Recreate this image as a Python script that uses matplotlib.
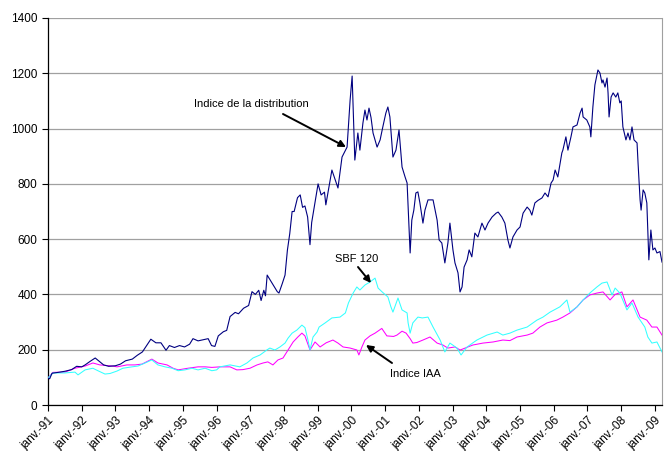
import matplotlib
matplotlib.use("Agg")
import matplotlib.pyplot as plt

plt.rcParams['font.family'] = ['Liberation Sans', 'DejaVu Sans']

# Indice de la distribution (dark blue)
dist_t = [1991.0, 1991.05, 1991.12, 1991.3, 1991.5, 1991.7, 1991.85, 1992.0, 1992.1, 1992.25,
          1992.4, 1992.5, 1992.65, 1992.8, 1993.0, 1993.15, 1993.3, 1993.5, 1993.65, 1993.8,
          1993.95, 1994.05, 1994.2, 1994.35, 1994.5, 1994.6, 1994.75, 1994.9, 1995.05, 1995.2,
          1995.3, 1995.45, 1995.6, 1995.75, 1995.85, 1995.95, 1996.05, 1996.2, 1996.3, 1996.4,
          1996.55, 1996.65, 1996.8, 1996.95, 1997.05, 1997.15, 1997.25, 1997.32, 1997.4, 1997.45,
          1997.5, 1997.6, 1997.7, 1997.8, 1997.85, 1997.95, 1998.03, 1998.1, 1998.17, 1998.24,
          1998.3, 1998.4, 1998.48, 1998.55, 1998.62, 1998.7, 1998.77, 1998.82, 1998.9, 1999.01,
          1999.1, 1999.2, 1999.24, 1999.35, 1999.42, 1999.6, 1999.72, 1999.87, 1999.96, 2000.02,
          2000.05, 2000.1, 2000.19, 2000.25, 2000.34, 2000.4, 2000.46, 2000.52, 2000.58, 2000.64,
          2000.76, 2000.85, 2000.93, 2001.02, 2001.08, 2001.14, 2001.23, 2001.32, 2001.41, 2001.5,
          2001.59, 2001.65, 2001.68, 2001.74, 2001.79, 2001.85, 2001.91, 2001.97, 2002.03, 2002.12,
          2002.18, 2002.27, 2002.42, 2002.54, 2002.6, 2002.68, 2002.77, 2002.86, 2002.92, 2003.01,
          2003.07, 2003.16, 2003.22, 2003.28, 2003.34, 2003.43, 2003.49, 2003.57, 2003.66, 2003.75,
          2003.87, 2003.96, 2004.05, 2004.17, 2004.29, 2004.35, 2004.46, 2004.55, 2004.64, 2004.7,
          2004.79, 2004.91, 2005.0, 2005.09, 2005.21, 2005.29, 2005.35, 2005.44, 2005.53, 2005.65,
          2005.74, 2005.83, 2005.92, 2005.98, 2006.04, 2006.12, 2006.24, 2006.27, 2006.36, 2006.42,
          2006.51, 2006.57, 2006.69, 2006.78, 2006.84, 2006.87, 2006.98, 2007.07, 2007.1, 2007.16,
          2007.22, 2007.28, 2007.31, 2007.37, 2007.43, 2007.46, 2007.52, 2007.58, 2007.61, 2007.64,
          2007.7, 2007.76, 2007.84, 2007.9, 2007.96, 2008.0, 2008.05, 2008.14, 2008.2, 2008.26,
          2008.32, 2008.38, 2008.47, 2008.5, 2008.56, 2008.59, 2008.65, 2008.7, 2008.76, 2008.79,
          2008.82, 2008.88, 2008.94, 2009.0, 2009.06, 2009.15, 2009.21]
dist_v = [97, 95, 115, 118, 122, 128, 140, 138, 145, 158,
          170, 160, 145, 140, 142, 148, 160, 166, 180, 192,
          220, 238, 225, 225, 198, 215, 208, 215, 210, 220,
          240, 232, 236, 240, 215, 212, 250, 265, 270, 320,
          335, 330, 350, 360, 410, 400, 415, 378, 415, 395,
          470, 450, 430, 410, 405, 440, 470, 560, 620, 700,
          700, 750, 760, 715, 720, 680, 580, 660, 720, 800,
          760, 770, 724, 800, 850, 785, 897, 933, 1103, 1190,
          1078, 886, 984, 922, 1020, 1067, 1031, 1074, 1040, 984,
          933, 959, 1006, 1056, 1078, 1042, 897, 922, 995, 861,
          825, 803, 716, 550, 669, 705, 767, 771, 731, 658,
          705, 742, 742, 669, 597, 586, 514, 586, 658, 561,
          514, 478, 409, 427, 499, 525, 561, 536, 622, 608,
          658, 633, 658, 680, 694, 698, 680, 658, 597, 568,
          608, 633, 644, 694, 716, 705, 687, 731, 740, 749,
          767, 753, 803, 814, 850, 825, 912, 922, 970, 922,
          970, 1006, 1013, 1056, 1074, 1042, 1031, 1006, 970, 1078,
          1158, 1194, 1212, 1201, 1165, 1176, 1150, 1183, 1129, 1042,
          1114, 1129, 1114, 1129, 1093, 1100, 1006, 959, 984, 959,
          1006, 959, 948, 875, 742, 705, 778, 767, 731, 633,
          525, 633, 561, 568, 550, 555, 517]

# SBF 120 (cyan)
sbf_t = [1991.0, 1991.15, 1991.5, 1991.8, 1991.89, 1992.1, 1992.33, 1992.48, 1992.69, 1992.84,
         1993.05, 1993.22, 1993.49, 1993.67, 1993.88, 1994.08, 1994.26, 1994.47, 1994.68, 1994.86,
         1995.06, 1995.27, 1995.45, 1995.66, 1995.86, 1996.0, 1996.1, 1996.4, 1996.69, 1996.9,
         1997.08, 1997.29, 1997.49, 1997.58, 1997.73, 1997.88, 1998.03, 1998.12, 1998.24, 1998.38,
         1998.53, 1998.62, 1998.71, 1998.77, 1998.86, 1998.98, 1999.04, 1999.22, 1999.42, 1999.66,
         1999.82, 1999.91, 2000.05, 2000.16, 2000.25, 2000.4, 2000.55, 2000.7, 2000.79, 2000.91,
         2001.08, 2001.17, 2001.23, 2001.38, 2001.5, 2001.65, 2001.68, 2001.74, 2001.82, 2001.97,
         2002.1, 2002.27, 2002.42, 2002.63, 2002.77, 2002.92, 2003.13, 2003.25, 2003.43, 2003.72,
         2004.02, 2004.32, 2004.49, 2004.7, 2004.91, 2005.21, 2005.5, 2005.68, 2005.89, 2006.18,
         2006.39, 2006.48, 2006.69, 2006.87, 2007.07, 2007.28, 2007.43, 2007.58, 2007.73, 2007.82,
         2007.96, 2008.17, 2008.32, 2008.5, 2008.7, 2008.79, 2008.91, 2009.06, 2009.21]
sbf_v = [98, 116, 116, 119, 109, 127, 133, 124, 112, 114,
         123, 133, 138, 141, 152, 163, 145, 138, 133, 124,
         127, 133, 127, 133, 124, 127, 138, 145, 138, 152,
         170, 181, 199, 206, 199, 210, 224, 242, 260, 271,
         289, 280, 235, 199, 246, 264, 282, 297, 315, 318,
         333, 369, 405, 427, 416, 434, 445, 459, 423, 409,
         391, 355, 336, 387, 344, 333, 297, 260, 297, 318,
         315, 318, 282, 235, 192, 224, 206, 181, 210, 235,
         253, 264, 253, 260, 271, 282, 307, 318, 336, 355,
         380, 336, 355, 380, 405, 427, 441, 445, 398, 423,
         405, 344, 369, 318, 282, 246, 224, 228, 192]

# Indice IAA (magenta)
iaa_t = [1991.0, 1991.15, 1991.5, 1991.8, 1992.1, 1992.33, 1992.54, 1992.9, 1993.05, 1993.34,
         1993.58, 1993.79, 1994.08, 1994.26, 1994.53, 1994.71, 1994.86, 1995.15, 1995.45, 1995.66,
         1995.86, 1996.1, 1996.4, 1996.6, 1996.78, 1996.99, 1997.2, 1997.38, 1997.52, 1997.67,
         1997.82, 1997.97, 1998.12, 1998.27, 1998.41, 1998.53, 1998.62, 1998.77, 1998.92, 1999.07,
         1999.25, 1999.45, 1999.6, 1999.75, 1999.96, 2000.16, 2000.22, 2000.31, 2000.4, 2000.55,
         2000.7, 2000.9, 2001.05, 2001.25, 2001.35, 2001.5, 2001.62, 2001.74, 2001.82, 2001.94,
         2002.12, 2002.33, 2002.54, 2002.71, 2002.86, 2003.07, 2003.22, 2003.31, 2003.6, 2003.9,
         2004.2, 2004.49, 2004.7, 2004.91, 2005.21, 2005.38, 2005.59, 2005.8, 2006.09, 2006.27,
         2006.48, 2006.69, 2006.87, 2007.07, 2007.28, 2007.46, 2007.67, 2007.82, 2008.02, 2008.17,
         2008.35, 2008.56, 2008.76, 2008.91, 2009.06, 2009.21]
iaa_v = [98, 118, 119, 133, 141, 152, 145, 141, 138, 145,
         145, 148, 166, 152, 145, 133, 127, 133, 138, 138,
         136, 138, 138, 127, 128, 133, 145, 152, 156, 145,
         163, 170, 199, 228, 246, 260, 250, 199, 228, 210,
         225, 235, 224, 210, 206, 199, 181, 210, 235, 250,
         260, 277, 250, 248, 253, 267, 260, 240, 224, 226,
         235, 246, 224, 217, 206, 210, 199, 203, 217, 224,
         228, 235, 233, 246, 253, 260, 282, 297, 307, 318,
         333, 355, 380, 398, 405, 409, 380, 400, 409, 355,
         380, 318, 307, 282, 282, 253]

year_ticks = list(range(1991, 2010))
year_labels = ["janv.-%02d" % (y % 100) for y in year_ticks]
y_ticks = [0, 200, 400, 600, 800, 1000, 1200, 1400]

fig = plt.figure(figsize=(6.66, 4.51), dpi=100)
ax = fig.add_axes([48/666, 1-405/451, (662-48)/666, (405-18)/451])

ax.plot(iaa_t, iaa_v, color='#FF00FF', lw=0.75, zorder=3)
ax.plot(sbf_t, sbf_v, color='#33FFFF', lw=0.75, zorder=4)
ax.plot(dist_t, dist_v, color='#000080', lw=0.8, zorder=5)

ax.set_xlim(1991.0, 2009.21)
ax.set_ylim(0, 1400)
ax.set_yticks(y_ticks)
ax.set_xticks(year_ticks)
ax.set_xticklabels(year_labels, rotation=45, ha='right', rotation_mode='anchor', fontsize=8.5)
ax.tick_params(axis='y', labelsize=8.5, length=4, direction='out', width=0.8)
ax.tick_params(axis='x', length=4, direction='out', width=0.8, pad=3)
ax.grid(axis='y', color='#A0A0A0', lw=0.9)
ax.set_axisbelow(True)
ax.spines['top'].set_visible(False)
ax.spines['right'].set_color('#A0A0A0')
ax.spines['left'].set_color('black')
ax.spines['bottom'].set_color('black')
for s in ('left', 'bottom'):
    ax.spines[s].set_linewidth(0.9)

arrowprops = dict(arrowstyle='-|>', color='black', lw=1.4, mutation_scale=10, shrinkA=0, shrinkB=0)

def px(x, y):
    return fig.transFigure.inverted().transform(fig.dpi_scale_trans.transform((x/100, (451-y)/100)))

ax.annotate('', xy=px(346, 147), xytext=px(283, 114), xycoords='figure fraction',
            textcoords='figure fraction', arrowprops=arrowprops, zorder=6)
ax.annotate('', xy=px(371, 283), xytext=px(358, 267), xycoords='figure fraction',
            textcoords='figure fraction', arrowprops=arrowprops, zorder=6)
ax.annotate('', xy=px(366, 345), xytext=px(392, 363), xycoords='figure fraction',
            textcoords='figure fraction', arrowprops=arrowprops, zorder=6)

fig.text(*px(251, 104), 'Indice de la distribution', fontsize=8, ha='center', va='center')
fig.text(*px(357, 259), 'SBF 120', fontsize=8, ha='center', va='center')
fig.text(*px(415, 374), 'Indice IAA', fontsize=8, ha='center', va='center')

fig.savefig('out.png', dpi=100)
